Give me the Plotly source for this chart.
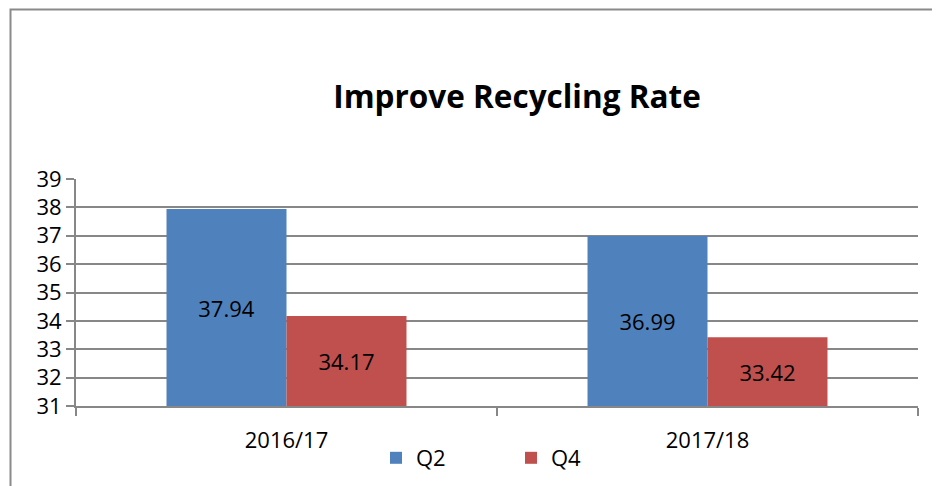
import plotly.graph_objects as go

categories = ["2016/17", "2017/18"]
q2_values = [37.94, 36.99]
q4_values = [34.17, 33.42]
y_ticks = [31, 32, 33, 34, 35, 36, 37, 38, 39]
axis_base = 31

FONT = "'Open Sans', 'Noto Sans', sans-serif"
GRID = "#878787"

# figure is offset by the page's 8px body margin, so coordinates below are figure-based
W, H = 932, 478
L, R, T, B = 68, 910, 171, 398
PW, PH = R - L, B - T

fig = go.Figure()
for name, vals, color in [("Q2", q2_values, "#4F81BD"), ("Q4", q4_values, "#C0504D")]:
    fig.add_trace(go.Bar(
        name=name, x=categories, y=[v - axis_base for v in vals], base=axis_base,
        marker=dict(color=color, line=dict(width=0)),
        text=[f"{v:.2f}" for v in vals], textposition="inside",
        insidetextanchor="middle", textangle=0,
        textfont=dict(color="black", size=22, family=FONT),
        hovertext=[f"{v:.2f}" for v in vals], hoverinfo="x+text",
    ))

fig.update_layout(
    width=W, height=H,
    margin=dict(l=L, r=W - R, t=T, b=H - B, autoexpand=False),
    paper_bgcolor="white", plot_bgcolor="white",
    font=dict(family=FONT, color="black", size=22),
    barmode="group", bargap=0.43, bargroupgap=0,
    title=dict(text="<b>Improve Recycling Rate</b>", x=509 / W, xanchor="center",
               y=1 - 89 / H, yanchor="middle",
               font=dict(size=31.5, family=FONT, color="black")),
    showlegend=True,
    legend=dict(orientation="h", x=(368 - L) / PW, xanchor="left",
                yref="container", y=1 - 450 / H, yanchor="middle",
                font=dict(size=22, family=FONT), entrywidth=90, entrywidthmode="pixels",
                bgcolor="rgba(0,0,0,0)", itemclick=False),
    uniformtext=dict(mode="show", minsize=20),
)

fig.update_xaxes(
    automargin=False,
    showline=True, linecolor=GRID, linewidth=2,
    ticks="outside", tickson="boundaries", ticklen=8, tickcolor=GRID, tickwidth=2,
    ticklabelstandoff=14,
    showgrid=False, tickfont=dict(size=22, family=FONT),
)
fig.update_yaxes(
    automargin=False,
    range=[31, 39], tickvals=y_ticks, showline=True, linecolor=GRID, linewidth=2,
    ticks="outside", ticklen=8, tickcolor=GRID, tickwidth=2,
    showgrid=True, gridcolor=GRID, gridwidth=2, zeroline=False,
    tickfont=dict(size=22, family=FONT),
)

# outer chart frame (left and top edges visible)
fig.add_shape(type="rect", xref="paper", yref="paper",
              x0=(2.5 - L) / PW, x1=1.2, y0=-1.0, y1=(B - 1.5) / PH,
              line=dict(color="#8a8a8a", width=2), fillcolor="rgba(0,0,0,0)", layer="below")

fig.write_html("out.html")
